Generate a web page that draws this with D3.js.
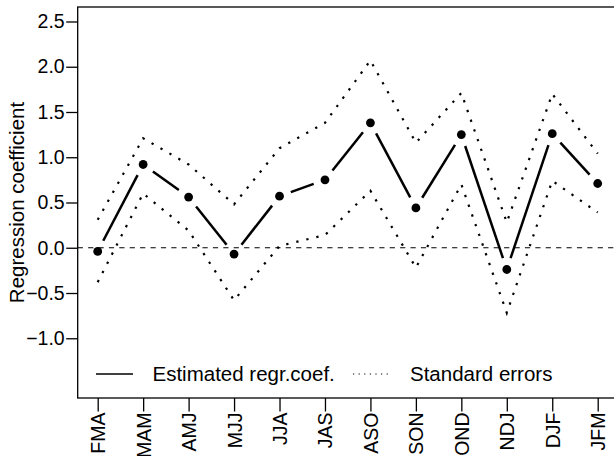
<!DOCTYPE html>
<html><head><meta charset="utf-8">
<script src="https://cdn.jsdelivr.net/npm/d3@7"></script>
<style>html,body{margin:0;padding:0;background:#fff;} svg{display:block;}</style>
</head><body>
<svg id="chart" width="614" height="456"></svg>
<script>
const categories = ["FMA","MAM","AMJ","MJJ","JJA","JAS","ASO","SON","OND","NDJ","DJF","JFM"];
const coef  = [-0.04, 0.92, 0.56, -0.07, 0.57, 0.75, 1.38, 0.44, 1.25, -0.24, 1.26, 0.71];
const upper = [0.31, 1.21, 0.92, 0.48, 1.10, 1.38, 2.07, 1.16, 1.71, 0.28, 1.70, 1.04];
const lower = [-0.38, 0.60, 0.19, -0.58, 0.02, 0.14, 0.63, -0.22, 0.70, -0.72, 0.74, 0.39];
const yTicks = [-1.0, -0.5, 0.0, 0.5, 1.0, 1.5, 2.0, 2.5];
const yLabel = "Regression coefficient";
const legendLabels = ["Estimated regr.coef.", "Standard errors"];

const FONT = "'Liberation Sans', Arial, Helvetica, sans-serif";
const L = 77.7, R = 617.7, T = 7, B = 398;
const svg = d3.select("#chart");
svg.append("rect").attr("width",614).attr("height",456).attr("fill","#fff");

const x = d3.scalePoint().domain(categories).range([L, R]).padding(0.44);
const y = d3.scaleLinear().domain([-1.66, 2.66]).range([B, T]);

// zero reference line
svg.append("line").attr("x1", L).attr("x2", R).attr("y1", y(0)).attr("y2", y(0))
  .attr("stroke", "#000").attr("stroke-width", 1.2).attr("stroke-dasharray", "5.2 5.2");

// standard error dotted lines
const seLine = d3.line().x((d,i) => x(categories[i])).y(d => y(d));
[upper, lower].forEach(arr => {
  svg.append("path").attr("d", seLine(arr)).attr("fill", "none")
    .attr("stroke", "#000").attr("stroke-width", 2.2).attr("stroke-dasharray", "2.3 8");
});

// estimate: segments with gaps around points (type = "b")
const gap = 12;
for (let i = 0; i < coef.length - 1; i++) {
  const x1 = x(categories[i]), y1 = y(coef[i]), x2 = x(categories[i+1]), y2 = y(coef[i+1]);
  const len = Math.hypot(x2 - x1, y2 - y1);
  if (len <= 2 * gap) continue;
  const ux = (x2 - x1) / len, uy = (y2 - y1) / len;
  svg.append("line").attr("x1", x1 + ux*gap).attr("y1", y1 + uy*gap)
    .attr("x2", x2 - ux*gap).attr("y2", y2 - uy*gap)
    .attr("stroke", "#000").attr("stroke-width", 2.5);
}
svg.selectAll("circle.pt").data(coef).enter().append("circle").attr("class","pt")
  .attr("cx", (d,i) => x(categories[i])).attr("cy", d => y(d)).attr("r", 4.4).attr("fill", "#000");

// box
svg.append("rect").attr("x", L).attr("y", T).attr("width", R - L).attr("height", B - T)
  .attr("fill", "none").attr("stroke", "#000").attr("stroke-width", 1.3);

// y axis
const yAxis = d3.axisLeft(y).tickValues(yTicks).tickSize(11.5).tickPadding(1.5)
  .tickFormat(d3.format(".1f"));
const gy = svg.append("g").attr("transform", `translate(${L},0)`).call(yAxis);
gy.select(".domain").remove();
gy.selectAll(".tick line").attr("stroke-width", 1.3);
gy.selectAll(".tick text").attr("font-family", FONT).attr("font-size", 19.5).attr("fill", "#000");

// x axis
const xAxis = d3.axisBottom(x).tickSize(13.5).tickPadding(0);
const gx = svg.append("g").attr("transform", `translate(0,${B})`).call(xAxis);
gx.select(".domain").remove();
gx.selectAll(".tick line").attr("stroke-width", 1.3);
gx.selectAll(".tick text").attr("font-family", FONT).attr("font-size", 19.5).attr("fill", "#000")
  .attr("text-anchor", "end").attr("dy", null).attr("y", null)
  .attr("transform", "translate(7,14.5) rotate(-90)");

// y label
svg.append("text").attr("transform", `translate(23.5,${(T+B)/2}) rotate(-90)`)
  .attr("text-anchor", "middle").attr("font-family", FONT).attr("font-size", 20.5).text(yLabel);

// legend
const ly = 374;
svg.append("line").attr("x1", 96).attr("x2", 133).attr("y1", ly).attr("y2", ly)
  .attr("stroke", "#000").attr("stroke-width", 1.3);
svg.append("text").attr("x", 152.5).attr("y", ly).attr("dy", "0.35em")
  .attr("font-family", FONT).attr("font-size", 20.5).text(legendLabels[0]);
svg.append("line").attr("x1", 353).attr("x2", 390).attr("y1", ly).attr("y2", ly)
  .attr("stroke", "#000").attr("stroke-width", 1.2).attr("stroke-dasharray", "1.2 4.4");
svg.append("text").attr("x", 410).attr("y", ly).attr("dy", "0.35em")
  .attr("font-family", FONT).attr("font-size", 20.5).text(legendLabels[1]);
</script>
</body></html>
